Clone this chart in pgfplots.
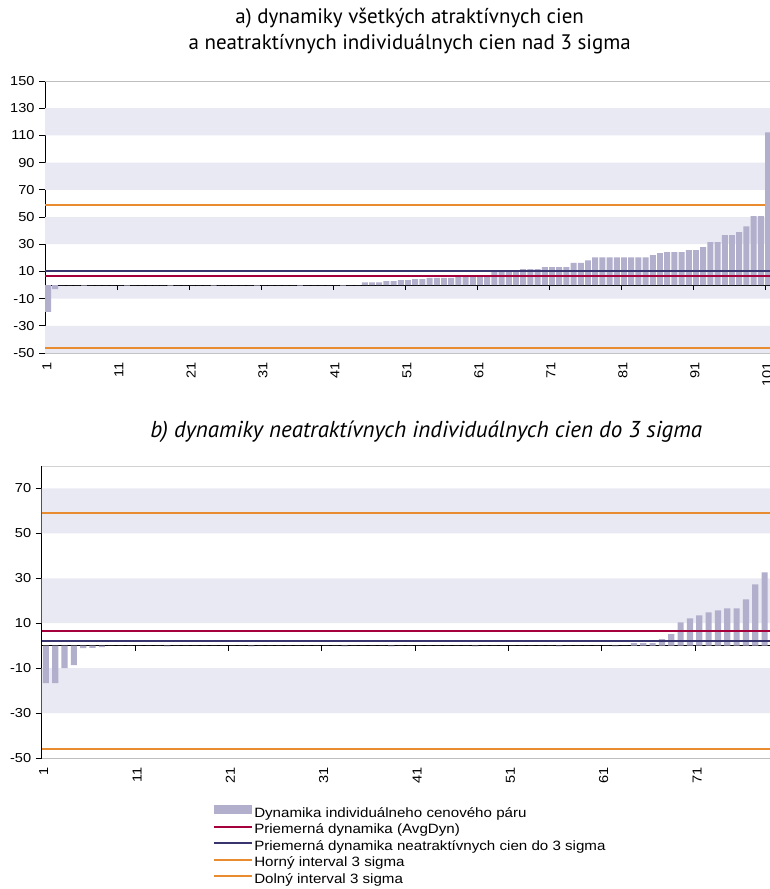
\documentclass[border=0pt]{standalone}
\usepackage{fontspec}
\setmainfont{Liberation Sans}[FakeStretch=1.12]
\newfontfamily\titlefont{PT Sans}
\usepackage{pgfplots}
\pgfplotsset{compat=1.18}
\usepackage{pgfplotstable}

\definecolor{barc}{RGB}{177,175,204}
\definecolor{bandc}{RGB}{233,233,243}
\definecolor{avgred}{RGB}{165,0,60}
\definecolor{navy}{RGB}{55,52,110}
\definecolor{sigorange}{RGB}{233,140,48}
\definecolor{frame}{RGB}{190,190,190}

% a) vsetky atraktivne ceny + neatraktivne nad 3 sigma
\pgfplotstableread{
x y
1 -19.8
2 -3.1
3 0
4 0
5 0
6 -0.4
7 0
8 0
9 0
10 0
11 0
12 -0.4
13 0
14 0
15 0
16 0
17 0
18 -0.4
19 0
20 0
21 0
22 0
23 0
24 -0.4
25 0
26 0
27 0
28 0
29 0
30 -0.4
31 0
32 0
33 0
34 0
35 0
36 -0.4
37 0
38 0
39 0
40 0
41 0
42 -0.4
43 0
44 0
45 2.0
46 2.0
47 2.0
48 2.8
49 2.8
50 3.5
51 3.5
52 4.3
53 4.3
54 5.2
55 5.2
56 5.2
57 5.2
58 6.0
59 6.0
60 6.7
61 6.7
62 7.0
63 10.0
64 10.0
65 10.0
66 10.0
67 11.6
68 11.6
69 11.6
70 13.1
71 13.1
72 13.1
73 13.1
74 16.2
75 16.2
76 18.2
77 20.4
78 20.4
79 20.4
80 20.4
81 20.4
82 20.4
83 20.4
84 20.4
85 21.9
86 23.4
87 24.1
88 24.1
89 24.1
90 25.6
91 25.6
92 27.8
93 31.5
94 31.5
95 36.6
96 36.6
97 38.8
98 43.2
99 50.6
100 50.6
101 112.3
}\topdata

% b) neatraktivne ceny do 3 sigma
\pgfplotstableread{
x y
1 -16.7
2 -16.7
3 -10.0
4 -8.7
5 -1.1
6 -1.0
7 -0.6
8 0
9 0
10 0
11 0
12 0
13 0
14 -0.3
15 0
16 0
17 0
18 0
19 0
20 0
21 0
22 0
23 -0.3
24 0
25 0
26 0
27 0
28 0
29 0
30 0
31 0
32 0
33 -0.3
34 0
35 0
36 0
37 0
38 -0.3
39 0
40 0
41 0
42 0
43 0
44 0
45 0
46 0
47 -0.3
48 0
49 0
50 0
51 0
52 0
53 0
54 0
55 0
56 -0.3
57 0
58 0
59 0
60 0
61 0
62 -0.3
63 0
64 1.1
65 1.1
66 1.1
67 2.9
68 5.1
69 10.4
70 12.2
71 13.5
72 14.8
73 15.7
74 16.6
75 16.6
76 20.6
77 27.3
78 32.6
}\botdata

\pgfplotsset{
  dyn/.style={
    scale only axis,
    axis x line*=bottom,
    axis y line*=left,
    x axis line style={draw=frame, line width=1pt},
    y axis line style={draw=black, line width=0.9pt},
    ytick style={draw=black, line width=0.8pt},
    tick align=outside,
    major tick length=6pt,
    xtick style={draw=none},
    ticklabel style={font=\fontsize{13}{15}\selectfont},
    xticklabel style={rotate=90, anchor=east, yshift=-2pt},
    yticklabel style={xshift=-1pt},
    legend image code/.code={\draw[##1] (0pt,3.5pt) -- (38pt,3.5pt);},
  },
  refline/.style={line width=1.7pt},
}

\begin{document}
\begin{tikzpicture}
\useasboundingbox (0pt,0pt) rectangle (770pt,-889pt);

\begin{axis}[dyn,
  at={(45pt,-353pt)}, anchor=south west,
  width=725pt, height=272pt,
  xmin=1, xmax=101.7, ymin=-50, ymax=150,
  xtick={1,11,21,31,41,51,61,71,81,91,101},
  xticklabels={1,11,21,31,41,51,61,71,81,91,101},
  ytick={-50,-30,-10,10,30,50,70,90,110,130,150},
  yticklabels={-50,-30,-10,10,30,50,70,90,110,130,150},
  title={a) dynamiky všetkých atraktívnych cien\\a neatraktívnych individuálnych cien nad 3 sigma},
  title style={at={(0.503,1)}, anchor=south, inner sep=0pt, yshift=21pt, align=center,
    font=\titlefont\fontsize{21}{26}\selectfont},
]
\addplot[draw=none, fill=bandc, forget plot] coordinates {(1,110) (101.7,110) (101.7,130) (1,130) (1,110)};
\addplot[draw=none, fill=bandc, forget plot] coordinates {(1,70) (101.7,70) (101.7,90) (1,90) (1,70)};
\addplot[draw=none, fill=bandc, forget plot] coordinates {(1,30) (101.7,30) (101.7,50) (1,50) (1,30)};
\addplot[draw=none, fill=bandc, forget plot] coordinates {(1,-10) (101.7,-10) (101.7,0) (1,0) (1,-10)};
\addplot[draw=none, fill=bandc, forget plot] coordinates {(1,-50) (101.7,-50) (101.7,-30) (1,-30) (1,-50)};
\addplot[frame, line width=2pt, forget plot] coordinates {(1,150) (101.7,150)};
\addplot[black, line width=0.9pt, forget plot] coordinates {(1,0) (101.7,0)};
\addplot[black, line width=0.8pt, ycomb, forget plot] coordinates {(11,-3.7) (21,-3.7) (31,-3.7) (41,-3.7) (51,-3.7) (61,-3.7) (71,-3.7) (81,-3.7) (91,-3.7) (101,-3.7)};
\addplot[sigorange, refline, forget plot] coordinates {(1,59) (101.7,59)};
\addplot[sigorange, refline, forget plot] coordinates {(1,-46.3) (101.7,-46.3)};
\addplot[ybar, bar width=0.83, bar shift=0.42, fill=barc, draw=none, forget plot] table[x=x, y=y] {\topdata};
\addplot[navy, refline, forget plot] coordinates {(1,10.1) (101.7,10.1)};
\addplot[avgred, refline, forget plot] coordinates {(1,6.5) (101.7,6.5)};
\end{axis}

\begin{axis}[dyn,
  at={(41.7pt,-758pt)}, anchor=south west,
  width=728.3pt, height=292pt,
  xmin=1, xmax=79.03, ymin=-50, ymax=80,
  xtick={1,11,21,31,41,51,61,71},
  xticklabels={1,11,21,31,41,51,61,71},
  ytick={-50,-30,-10,10,30,50,70},
  yticklabels={-50,-30,-10,10,30,50,70},
  title={b) dynamiky neatraktívnych individuálnych cien do 3 sigma},
  title style={at={(0.528,1)}, anchor=south, inner sep=0pt, yshift=17pt,
    font=\titlefont\itshape\fontsize{23}{26}\selectfont},
  legend style={at={(0.235,-0.161)}, anchor=north west, draw=none, fill=none,
    font=\fontsize{13.5}{15}\selectfont, row sep=1.5pt, inner sep=0pt,
    nodes={inner sep=1.5pt, text height=9.5pt, text depth=2.5pt},
    cells={anchor=west}},
]
\addplot[draw=none, fill=bandc, forget plot] coordinates {(1,50) (79.03,50) (79.03,70) (1,70) (1,50)};
\addplot[draw=none, fill=bandc, forget plot] coordinates {(1,10) (79.03,10) (79.03,30) (1,30) (1,10)};
\addplot[draw=none, fill=bandc, forget plot] coordinates {(1,-30) (79.03,-30) (79.03,-10) (1,-10) (1,-30)};
\addplot[frame!70, line width=2pt, forget plot] coordinates {(1,80) (79.03,80)};
\addplot[black, line width=0.9pt, forget plot] coordinates {(1,0) (79.03,0)};
\addplot[black, line width=0.8pt, ycomb, forget plot] coordinates {(11,-2.2) (21,-2.2) (31,-2.2) (41,-2.2) (51,-2.2) (61,-2.2) (71,-2.2)};
\addplot[ybar, bar width=0.66, bar shift=0.45, fill=barc, draw=none,
  legend image code/.code={\fill[barc] (0pt,-0.5pt) rectangle (38pt,8.5pt);}] table[x=x, y=y] {\botdata};
\addlegendentry{Dynamika individuálneho cenového páru}
\addplot[avgred, refline] coordinates {(1,6.6) (79.03,6.6)};
\addlegendentry{Priemerná dynamika (AvgDyn)}
\addplot[navy, refline] coordinates {(1,2.1) (79.03,2.1)};
\addlegendentry{Priemerná dynamika neatraktívnych cien do 3 sigma}
\addplot[sigorange, refline] coordinates {(1,59) (79.03,59)};
\addlegendentry{Horný interval 3 sigma}
\addplot[sigorange, refline] coordinates {(1,-45.9) (79.03,-45.9)};
\addlegendentry{Dolný interval 3 sigma}
\end{axis}
\end{tikzpicture}
\end{document}
